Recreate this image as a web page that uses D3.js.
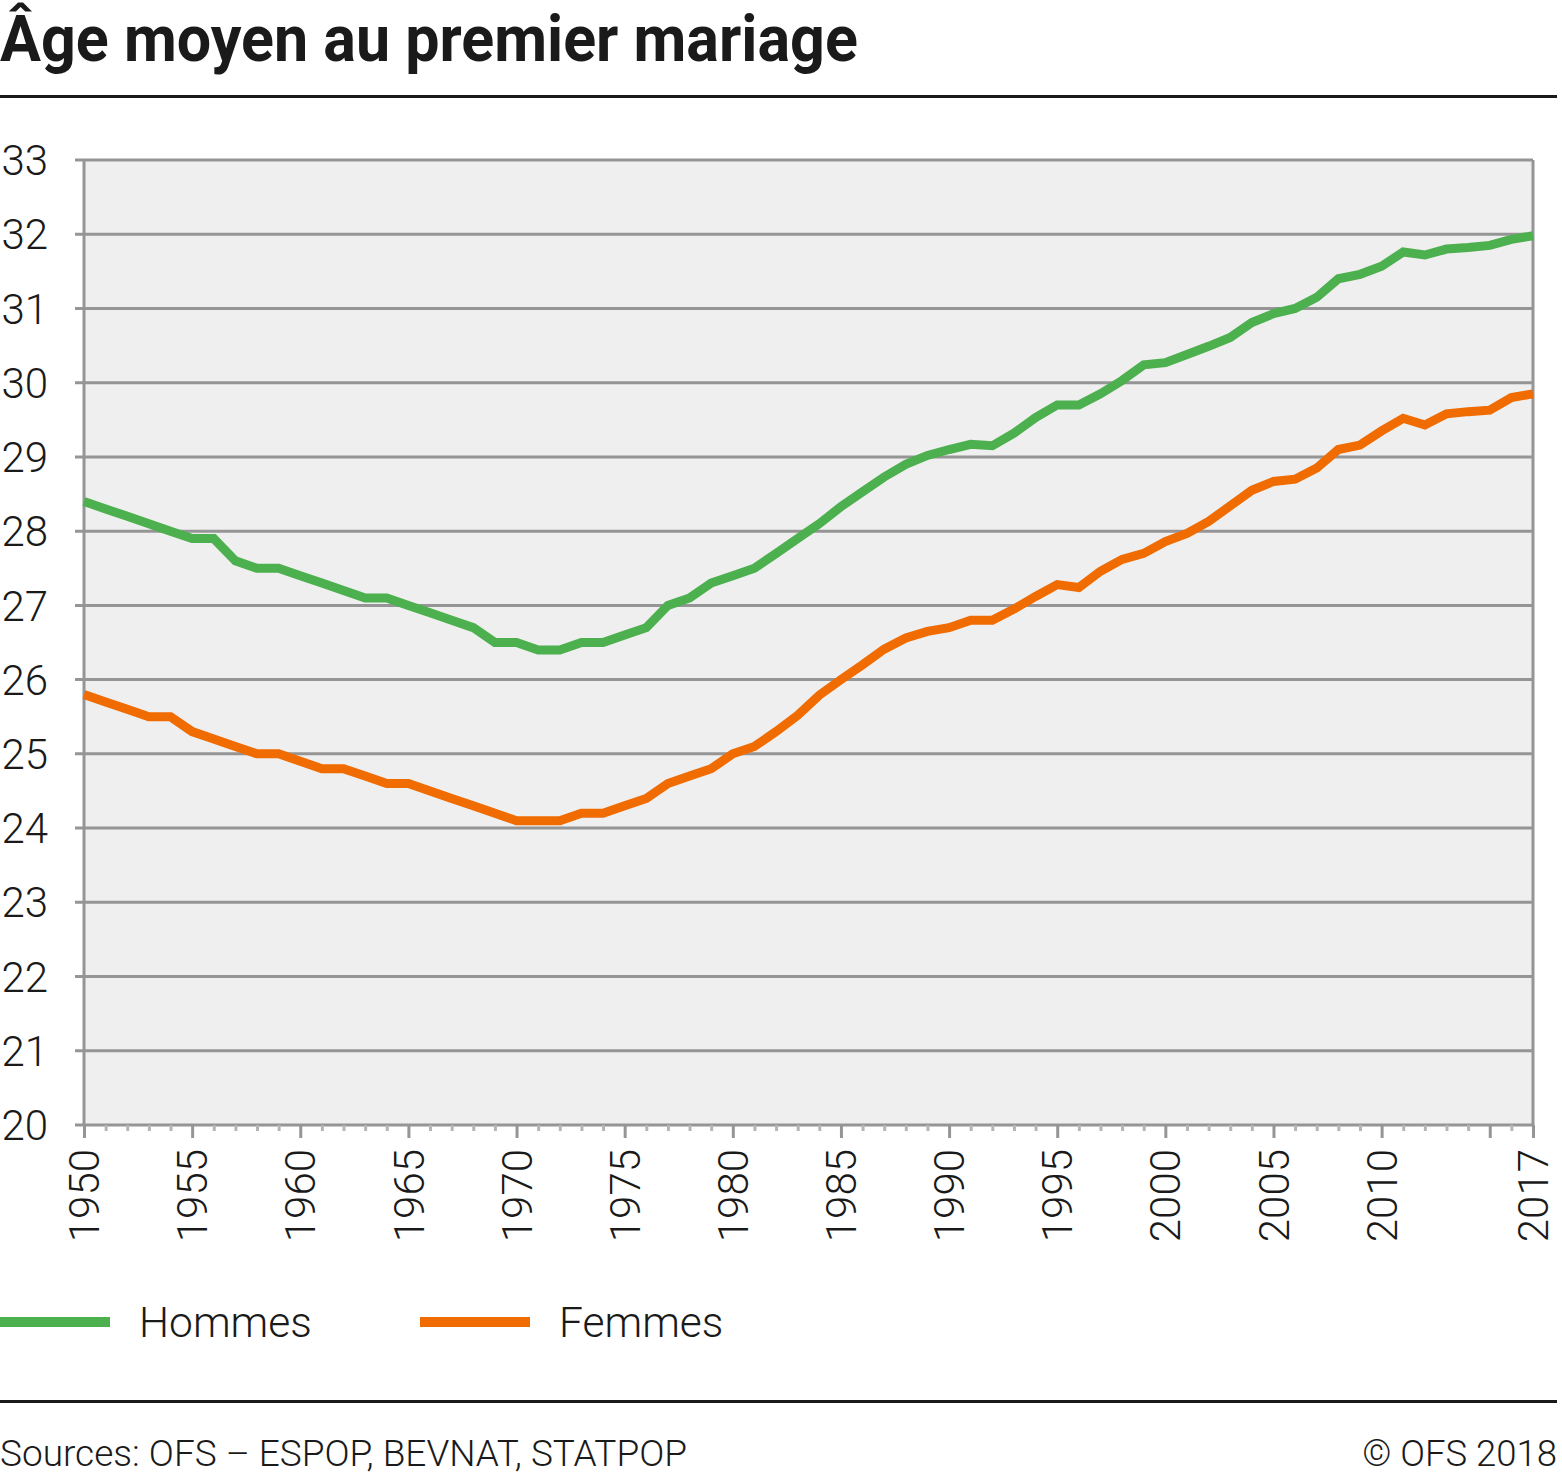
<!DOCTYPE html>
<html><head><meta charset="utf-8">
<script src="https://cdn.jsdelivr.net/npm/d3@7"></script>
<style>body{margin:0;background:#fff}svg{display:block}</style>
</head><body><svg id="c" width="1562" height="1475"></svg>
<script>
const years = d3.range(1950, 2018);
const hommes = [28.4,28.3,28.2,28.1,28.0,27.9,27.9,27.6,27.5,27.5,
27.4,27.3,27.2,27.1,27.1,27.0,26.9,26.8,26.7,26.5,
26.5,26.4,26.4,26.5,26.5,26.6,26.7,27.0,27.1,27.3,
27.4,27.5,27.7,27.9,28.1,28.33,28.53,28.73,28.9,29.02,
29.1,29.17,29.15,29.32,29.53,29.7,29.7,29.85,30.03,30.24,
30.27,30.38,30.49,30.61,30.81,30.93,31.0,31.15,31.4,31.46,
31.57,31.76,31.72,31.8,31.82,31.85,31.93,31.98];
const femmes = [25.8,25.7,25.6,25.5,25.5,25.3,25.2,25.1,25.0,25.0,
24.9,24.8,24.8,24.7,24.6,24.6,24.5,24.4,24.3,24.2,
24.1,24.1,24.1,24.2,24.2,24.3,24.4,24.6,24.7,24.8,
25.0,25.1,25.3,25.52,25.79,26.0,26.2,26.41,26.56,26.65,
26.7,26.8,26.8,26.95,27.12,27.28,27.24,27.46,27.62,27.7,
27.86,27.97,28.13,28.34,28.55,28.67,28.7,28.85,29.1,29.16,
29.35,29.52,29.43,29.58,29.61,29.63,29.8,29.85];
const yTicks = d3.range(20, 34);
const xLabels = [1950,1955,1960,1965,1970,1975,1980,1985,1990,1995,2000,2005,2010,2017];
const xMajor = [1950,1955,1960,1965,1970,1975,1980,1985,1990,1995,2000,2005,2010,2015,2017];
const title = "Âge moyen au premier mariage";
const series = [{name:"Hommes", values:hommes, color:"#4db04f"},{name:"Femmes", values:femmes, color:"#f06b00"}];
const source = "Sources: OFS – ESPOP, BEVNAT, STATPOP";
const copyright = "© OFS 2018";

const svg = d3.select("#c");
const L=84, R=1533, T=160, B=1125;
const x = d3.scaleLinear().domain([1950,2017]).range([L,R]);
const y = d3.scaleLinear().domain([20,33]).range([B,T]);
const grey="#959595";

const tt = svg.append("text").attr("x",0).attr("y",0).text(title)
  .attr("font-family","Roboto").attr("font-weight",700).attr("font-size",64).attr("fill","#1a1a1a");
const tw = tt.node().getComputedTextLength();
tt.attr("transform",`translate(0,61) scale(${858/tw},1)`);
svg.append("rect").attr("x",0).attr("y",95).attr("width",1557).attr("height",3).attr("fill","#1a1a1a");

svg.append("rect").attr("x",L).attr("y",T).attr("width",R-L).attr("height",B-T).attr("fill","#efefef");

// grid
svg.append("g").selectAll("line").data(yTicks).join("line")
  .attr("x1",L-9).attr("x2",R).attr("y1",d=>y(d)).attr("y2",d=>y(d))
  .attr("stroke",grey).attr("stroke-width",3);
svg.append("line").attr("x1",L).attr("x2",L).attr("y1",T).attr("y2",B+1).attr("stroke",grey).attr("stroke-width",3);
svg.append("line").attr("x1",R).attr("x2",R).attr("y1",T).attr("y2",B+1).attr("stroke",grey).attr("stroke-width",3);

// y labels
svg.append("g").selectAll("text").data(yTicks).join("text")
  .attr("x",48).attr("y",d=>y(d)).attr("dy","0.36em").attr("text-anchor","end")
  .attr("font-family","Roboto").attr("font-weight",300).attr("font-size",42).attr("fill","#1a1a1a")
  .text(d=>d);

// x ticks
const xAxis = d3.axisBottom(x).tickValues(years.filter(d=>!xMajor.includes(d))).tickSize(6).tickFormat("");
const gx = svg.append("g").attr("transform",`translate(0,${B})`).call(xAxis);
gx.select(".domain").remove();
gx.selectAll("line").attr("stroke","#b5b5b5").attr("stroke-width",3);
const xAxis2 = d3.axisBottom(x).tickValues(xMajor).tickSize(13).tickFormat("");
const gx2 = svg.append("g").attr("transform",`translate(0,${B})`).call(xAxis2);
gx2.select(".domain").remove();
gx2.selectAll("line").attr("stroke",grey).attr("stroke-width",3);

svg.append("g").selectAll("text").data(xLabels).join("text")
  .attr("transform",d=>`translate(${x(d)},${B+24}) rotate(-90)`)
  .attr("dy","0.36em").attr("text-anchor","end")
  .attr("font-family","Roboto").attr("font-weight",300).attr("font-size",42).attr("fill","#1a1a1a")
  .text(d=>d);

// lines
const line = d3.line().x((d,i)=>x(years[i])).y(d=>y(d));
svg.append("g").selectAll("path").data(series).join("path")
  .attr("d",d=>line(d.values)).attr("fill","none").attr("stroke",d=>d.color)
  .attr("stroke-width",9).attr("stroke-linejoin","miter");

// legend
const lg = svg.append("g").selectAll("g").data(series).join("g")
  .attr("transform",(d,i)=>`translate(${i*420},1322)`);
lg.append("rect").attr("x",0).attr("y",-5).attr("width",110).attr("height",10).attr("fill",d=>d.color);
lg.append("text").attr("x",139).attr("y",0).attr("dy","0.36em").text(d=>d.name)
  .attr("font-family","Roboto").attr("font-weight",300).attr("font-size",42.5).attr("fill","#1a1a1a");

svg.append("rect").attr("x",0).attr("y",1400).attr("width",1557).attr("height",3).attr("fill","#1a1a1a");
svg.append("text").attr("x",0).attr("y",1466).text(source)
  .attr("font-family","Roboto").attr("font-weight",300).attr("font-size",37).attr("fill","#1a1a1a");
svg.append("text").attr("x",1557).attr("y",1466).attr("text-anchor","end").text(copyright)
  .attr("font-family","Roboto").attr("font-weight",300).attr("font-size",36.5).attr("fill","#1a1a1a");
</script></body></html>
